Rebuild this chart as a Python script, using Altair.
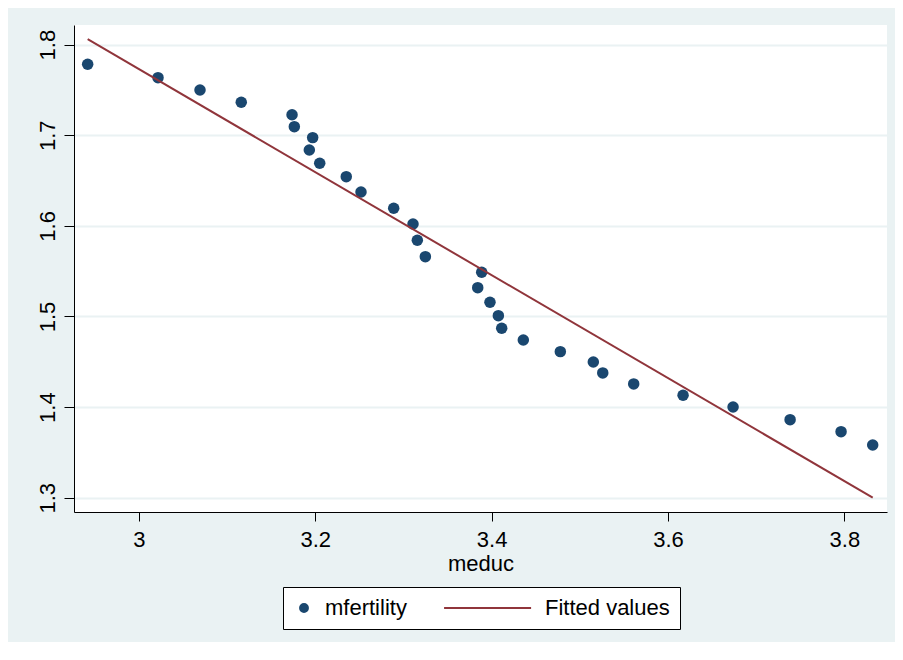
import altair as alt
import pandas as pd

# ---- data ----
meduc = [2.9418, 3.0216, 3.0692, 3.1160, 3.1736, 3.1762, 3.1970, 3.1932, 3.2050, 3.2351,
         3.2518, 3.2889, 3.3108, 3.3157, 3.3248, 3.3887, 3.3842, 3.3981, 3.4076, 3.4114,
         3.4359, 3.4779, 3.5153, 3.5260, 3.5611, 3.6171, 3.6738, 3.7385, 3.7963, 3.8322]
mfertility = [1.7784, 1.7636, 1.7500, 1.7364, 1.7227, 1.7095, 1.6974, 1.6838, 1.6691, 1.6543,
              1.6374, 1.6194, 1.6021, 1.5841, 1.5660, 1.5488, 1.5318, 1.5157, 1.5009, 1.4870,
              1.4741, 1.4612, 1.4498, 1.4377, 1.4256, 1.4130, 1.4001, 1.3861, 1.3729, 1.3582]
fit_meduc = [2.9418, 3.8322]
fit_values = [1.806, 1.300]
series = ["mfertility", "Fitted values"]
x_ticks = [3, 3.2, 3.4, 3.6, 3.8]
y_ticks = [1.3, 1.4, 1.5, 1.6, 1.7, 1.8]

pts = pd.DataFrame({"meduc": meduc, "value": mfertility, "series": series[0]})
fit = pd.DataFrame({"meduc": fit_meduc, "value": fit_values, "series": series[1]})

FONT = "Liberation Sans"
BG = "#EAF2F3"

color_scale = alt.Scale(domain=series, range=["#1a476f", "#90353b"])
shape_scale = alt.Scale(domain=series, range=["circle", "M-20.3,0L1.8,0"])

legend = alt.Legend(
    title=None, orient="none", legendX=209, legendY=562, direction="horizontal",
    symbolSize=62, symbolStrokeWidth=2, symbolOpacity=1,
    labelFont=FONT, labelFontSize=22, labelColor="#000000", labelOffset=10, labelLimit=600,
    padding=10, strokeColor="#000000", fillColor="#FFFFFF", columnPadding=33,
)

x = alt.X("meduc:Q",
          scale=alt.Scale(domain=[2.9263, 3.8484], nice=False, zero=False),
          axis=alt.Axis(values=x_ticks, title="meduc", grid=False, tickSize=9,
                        labelPadding=8, titleBaseline="alphabetic", titleY=58,
                        format=".1~f"))
y = alt.Y("value:Q",
          scale=alt.Scale(domain=[1.2842, 1.8217], nice=False, zero=False),
          axis=alt.Axis(values=y_ticks, title=None, grid=True, tickSize=10,
                        labelAngle=270, labelAlign="center", labelBaseline="alphabetic",
                        labelPadding=10, format=".1f"))

points = alt.Chart(pts).mark_point(filled=True, size=132, opacity=1).encode(
    x=x, y=y,
    color=alt.Color("series:N", scale=color_scale, legend=legend),
    shape=alt.Shape("series:N", scale=shape_scale, legend=legend),
)
line = alt.Chart(fit).mark_line(strokeWidth=2).encode(
    x=x, y=y,
    color=alt.Color("series:N", scale=color_scale, legend=legend),
)

chart = alt.layer(points, line).properties(
    width=813, height=487,
    autosize=alt.AutoSizeParams(type="none"),
    padding={"left": 66, "top": 17, "right": 8, "bottom": 130},
    background=BG,
).configure_view(
    fill="white", strokeWidth=0
).configure_axis(
    labelFont=FONT, labelFontSize=22, labelColor="#000000",
    titleFont=FONT, titleFontSize=22, titleFontWeight="normal", titleColor="#000000",
    domainColor="#000000", domainWidth=1, tickColor="#000000", tickWidth=1,
    gridColor=BG, gridWidth=1.8, labelFlush=False, labelOverlap=False,
)

chart.save("out.html", embed_options={"renderer": "svg", "actions": False})
